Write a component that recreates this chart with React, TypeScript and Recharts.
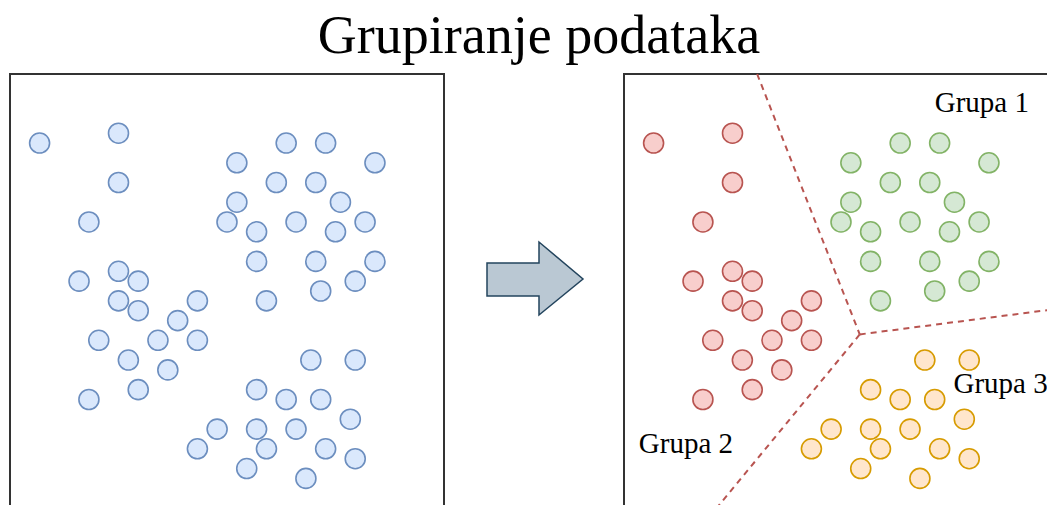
import { ReferenceArea, ReferenceLine, Scatter, ScatterChart, XAxis, YAxis } from "recharts";

// grid units of the drawing (about 9.86px each), y grows downward
const groupOne: [number, number][] = [
    [28, 7], [32, 7], [23, 9], [37, 9], [27, 11], [31, 11], [23, 13], [33.5, 13], [22, 15], [25, 16],
    [29, 15], [33, 16], [36, 15], [25, 19], [31, 19], [37, 19], [35, 21], [31.5, 22], [26, 23],
];
const groupTwo: [number, number][] = [
    [3, 7], [11, 6], [11, 11], [8, 15], [7, 21], [11, 20], [13, 21], [11, 23], [13, 24], [19, 23],
    [17, 25], [9, 27], [15, 27], [19, 27], [12, 29], [16, 30], [13, 32], [8, 33],
];
const groupThree: [number, number][] = [
    [30.5, 29], [35, 29], [25, 32], [28, 33], [31.5, 33], [34.5, 35], [21, 36], [25, 36], [29, 36],
    [19, 38], [26, 38], [32, 38], [35, 39], [24, 40], [30, 41],
];
const borderSegments: [number, number][][] = [
    [[13.5, 0], [23.9, 26.4]],
    [[23.9, 26.4], [44, 23.8]],
    [[23.9, 26.4], [9.4, 44]],
];
const groupLabels = [
    { x: 31.5, y: 3.9, name: "Grupa 1" },
    { x: 1.5, y: 38.4, name: "Grupa 2" },
    { x: 33.4, y: 32.3, name: "Grupa 3" },
];
const title = "Grupiranje podataka";

const toPoints = (arr: [number, number][]) => arr.map(([x, y]) => ({ x, y }));
const allPoints = [...toPoints(groupOne), ...toPoints(groupTwo), ...toPoints(groupThree)];

const SIZE = 438;
const MARGIN = { top: 2, right: 2, bottom: 2, left: 2 };
const FONT = "'Liberation Serif', 'Times New Roman', serif";

/**
 * Circle shape used by every scatter
 */
const dot = (fill: string, stroke: string) => (props: any) => (
    <circle cx={props.cx} cy={props.cy} r={10} fill={fill} stroke={stroke} strokeWidth={1.6} />
);

function Axes() {
    return (
        <>
            <XAxis type="number" dataKey="x" domain={[0, 44]} hide allowDataOverflow />
            <YAxis type="number" dataKey="y" domain={[0, 44]} reversed hide allowDataOverflow />
            <ReferenceArea x1={0} x2={44} y1={0} y2={44} fill="none" stroke="#333333" strokeWidth={2} fillOpacity={0} ifOverflow="visible" />
        </>
    );
}

export default function App() {
    return (
        <div style={{ position: "absolute", left: 0, top: 0, width: 1047, height: 505, overflow: "hidden", background: "#ffffff" }}>
            <svg width={1047} height={505} style={{ position: "absolute", left: 0, top: 0 }}>
                <text x={539} y={53} textAnchor="middle" fontFamily={FONT} fontSize={54} fill="#000000">{title}</text>
                <polygon
                    points="487,263 539,263 539,242 583,279 539,315 539,296 487,296"
                    fill="#bac8d3"
                    stroke="#23445d"
                    strokeWidth={1.5}
                    strokeLinejoin="miter"
                />
            </svg>

            <div style={{ position: "absolute", left: 8, top: 72 }}>
                <ScatterChart width={SIZE} height={SIZE} margin={MARGIN} style={{ overflow: "visible" }}>
                    {Axes()}
                    <Scatter data={allPoints} isAnimationActive={false} shape={dot("#dae8fc", "#6c8ebf")} />
                </ScatterChart>
            </div>

            <div style={{ position: "absolute", left: 622, top: 72 }}>
                <ScatterChart width={SIZE} height={SIZE} margin={MARGIN} style={{ overflow: "visible" }}>
                    {Axes()}
                    {borderSegments.map((seg, i) => (
                        <ReferenceLine
                            key={i}
                            segment={[{ x: seg[0][0], y: seg[0][1] }, { x: seg[1][0], y: seg[1][1] }]}
                            stroke="#b85450"
                            strokeWidth={2}
                            strokeDasharray="6 5"
                            ifOverflow="visible"
                        />
                    ))}
                    <Scatter data={toPoints(groupOne)} isAnimationActive={false} shape={dot("#d5e8d4", "#82b366")} />
                    <Scatter data={toPoints(groupTwo)} isAnimationActive={false} shape={dot("#f8cecc", "#b85450")} />
                    <Scatter data={toPoints(groupThree)} isAnimationActive={false} shape={dot("#ffe6cc", "#d79b00")} />
                    <Scatter
                        data={groupLabels}
                        isAnimationActive={false}
                        shape={(props: any) => (
                            <text x={props.cx} y={props.cy} fontFamily={FONT} fontSize={29} fill="#000000">
                                {props.payload.name}
                            </text>
                        )}
                    />
                </ScatterChart>
            </div>
        </div>
    );
}
